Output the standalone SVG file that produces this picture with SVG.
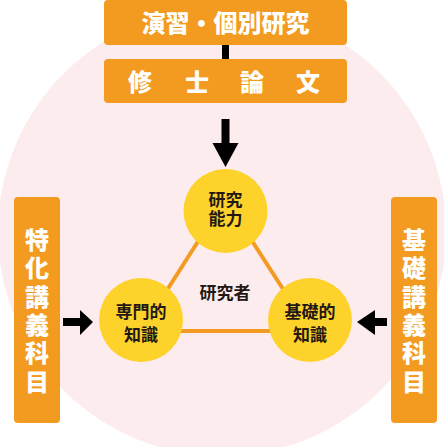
<svg xmlns="http://www.w3.org/2000/svg" width="444" height="447" viewBox="0 0 444 447">
<style>
.box{fill:#f39a21}
.wt{fill:#ffffff;font-family:"Noto Sans CJK JP","Noto Sans CJK SC",sans-serif;font-weight:900;font-size:24px;text-anchor:middle}
.node{fill:#fdd22a}
.dt{fill:#231815;font-family:"Noto Sans CJK JP","Noto Sans CJK SC",sans-serif;font-weight:700;font-size:17px;text-anchor:middle}
.edge{stroke:#f39a21;stroke-width:4;fill:none}
.arr{fill:#000000}
</style>
<rect width="444" height="447" fill="#ffffff"/>
<circle cx="222" cy="232" r="224" fill="#fdeced"/>
<g id="connectors">
<line class="edge" x1="225" y1="199" x2="141" y2="331"/>
<line class="edge" x1="225" y1="199" x2="310" y2="331"/>
<line class="edge" x1="141" y1="331" x2="310" y2="331"/>
<rect class="arr" x="222" y="44" width="7" height="16"/>
<polygon class="arr" points="221.5,119 229.5,119 229.5,143 238.5,143 225.5,167 212.5,143 221.5,143"/>
<polygon class="arr" points="63,318 80,318 80,310 93,322 80,335 80,326 63,326"/>
<polygon class="arr" points="387,318 375,318 375,310 357,322 375,335 375,326 387,326"/>
</g>
<g id="seminar">
<rect class="box" x="104" y="0" width="243" height="45" rx="4"/>
<text class="wt" x="225.5" y="32">演習・個別研究</text>
</g>
<g id="thesis">
<rect class="box" x="104" y="59" width="243" height="44" rx="4"/>
<text class="wt" y="91"><tspan x="140">修</tspan><tspan x="197">士</tspan><tspan x="252">論</tspan><tspan x="308">文</tspan></text>
</g>
<g id="special">
<rect class="box" x="14" y="197" width="46" height="226" rx="4"/>
<text class="wt"><tspan x="37" y="249">特</tspan><tspan x="37" y="277">化</tspan><tspan x="37" y="306">講</tspan><tspan x="37" y="334">義</tspan><tspan x="37" y="362">科</tspan><tspan x="37" y="391">目</tspan></text>
</g>
<g id="basic">
<rect class="box" x="391" y="197" width="46" height="226" rx="4"/>
<text class="wt"><tspan x="414" y="249">基</tspan><tspan x="414" y="277">礎</tspan><tspan x="414" y="306">講</tspan><tspan x="414" y="334">義</tspan><tspan x="414" y="362">科</tspan><tspan x="414" y="391">目</tspan></text>
</g>
<g id="research">
<circle class="node" cx="225.5" cy="211" r="42"/>
<text class="dt"><tspan x="225.5" y="206">研究</tspan><tspan x="225.5" y="225">能力</tspan></text>
</g>
<g id="expert">
<circle class="node" cx="141" cy="320" r="42"/>
<text class="dt"><tspan x="141" y="318">専門的</tspan><tspan x="141" y="341">知識</tspan></text>
</g>
<g id="foundation">
<circle class="node" cx="310" cy="320" r="42"/>
<text class="dt"><tspan x="310" y="318">基礎的</tspan><tspan x="310" y="341">知識</tspan></text>
</g>
<g id="researcher">
<text class="dt" x="225" y="299" font-size="16">研究者</text>
</g>
</svg>
